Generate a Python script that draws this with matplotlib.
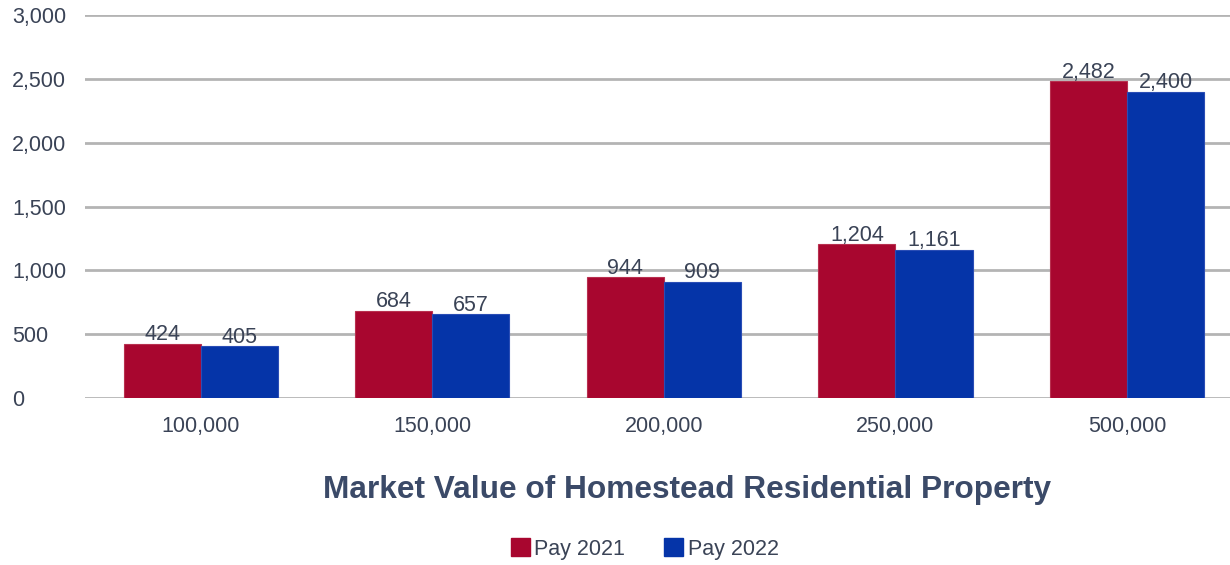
import numpy as np
import matplotlib
matplotlib.use("Agg")
import matplotlib.pyplot as plt
import matplotlib.patches as mpatches

# data
categories = ["100,000", "150,000", "200,000", "250,000", "500,000"]
pay_2021 = [424, 684, 944, 1204, 2482]
pay_2022 = [405, 657, 909, 1161, 2400]
series_names = ["Pay 2021", "Pay 2022"]
yticks = [0, 500, 1000, 1500, 2000, 2500, 3000]

red = "#A8062F"
blue = "#0534A8"
text_col = "#3A4356"

plt.rcParams["font.family"] = ["Liberation Sans", "DejaVu Sans"]

fig = plt.figure(figsize=(12.3, 5.65), dpi=100)
ax = fig.add_axes([85 / 1230, 1 - 398 / 565, 1 - 85 / 1230, (398 - 15) / 565])

x = np.arange(len(categories))
w = 0.333
b1 = ax.bar(x - w / 2, pay_2021, w, color=red, edgecolor="#B8304F", linewidth=0.8, zorder=3)
b2 = ax.bar(x + w / 2, pay_2022, w, color=blue, edgecolor="#2A4DB5", linewidth=0.8, zorder=3)

fs = 15.5
for bars, vals in [(b1, pay_2021), (b2, pay_2022)]:
    for r, v in zip(bars, vals):
        ax.annotate(f"{v:,}", (r.get_x() + r.get_width() / 2, v), xytext=(0, -1),
                    textcoords="offset points", ha="center", va="bottom",
                    fontsize=fs, color=text_col, zorder=4)

ax.set_xlim(-0.5, 4.445)
ax.set_ylim(0, 3000)
ax.set_yticks(yticks)
ax.set_yticklabels([f"{t:,}" for t in yticks])
for lab in ax.get_yticklabels():
    lab.set_horizontalalignment("left")
ax.tick_params(axis="y", length=0, pad=52.5, labelsize=fs, labelcolor=text_col)
ax.set_xticks(x)
ax.set_xticklabels(categories)
ax.tick_params(axis="x", length=0, pad=13, labelsize=fs, labelcolor=text_col)

ax.grid(axis="y", color="#B4B4B4", linewidth=2, zorder=0)
for s in ax.spines.values():
    s.set_visible(False)

fig.text(687 / 1230, 1 - 490 / 565, "Market Value of Homestead Residential Property",
         ha="center", va="center", fontsize=22.8, fontweight="bold", color="#3B4A68")

handles = [mpatches.Patch(color=red, label=series_names[0]),
           mpatches.Patch(color=blue, label=series_names[1])]
fig.legend(handles=handles, loc="center", bbox_to_anchor=(0.524, 1 - 549 / 565), ncol=2,
           frameon=False, fontsize=15.5, handlelength=0.9, handleheight=0.9,
           handletextpad=0.2, columnspacing=1.8, labelcolor=text_col)

fig.savefig("out.png", dpi=100)
